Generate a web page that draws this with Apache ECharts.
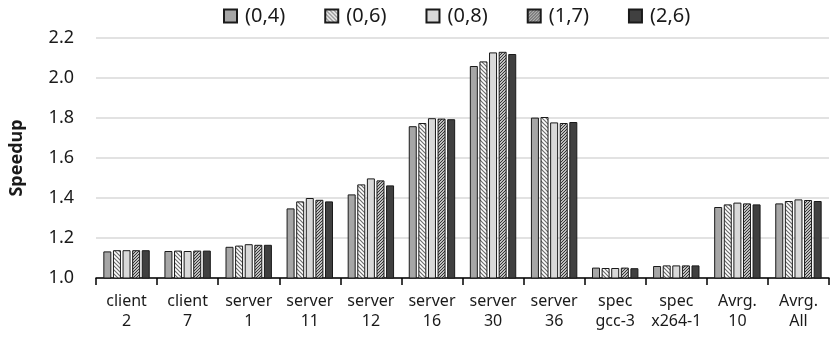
<!DOCTYPE html>
<html>
<head>
<meta charset="utf-8">
<script src="https://cdn.jsdelivr.net/npm/echarts@6/dist/echarts.min.js"></script>
<style>
  html, body { margin: 0; padding: 0; background: #fff; }
  #chart { width: 830px; height: 340px; }
</style>
</head>
<body>
<div id="chart"></div>
<script>
// workloads on the x axis
const categories = ['client\n2', 'client\n7', 'server\n1', 'server\n11', 'server\n12', 'server\n16',
  'server\n30', 'server\n36', 'spec\ngcc-3', 'spec\nx264-1', 'Avrg.\n10', 'Avrg.\nAll'];

const seriesNames = ['(0,4)', '(0,6)', '(0,8)', '(1,7)', '(2,6)'];

// speedup per config
const s04 = [1.133, 1.135, 1.156, 1.348, 1.418, 1.759, 2.060, 1.802, 1.052, 1.060, 1.355, 1.373];
const s06 = [1.139, 1.137, 1.162, 1.383, 1.468, 1.775, 2.083, 1.805, 1.050, 1.063, 1.368, 1.385];
const s08 = [1.139, 1.135, 1.169, 1.400, 1.498, 1.799, 2.128, 1.778, 1.050, 1.063, 1.377, 1.393];
const s17 = [1.139, 1.137, 1.166, 1.391, 1.488, 1.797, 2.131, 1.775, 1.052, 1.063, 1.373, 1.390];
const s26 = [1.139, 1.137, 1.166, 1.383, 1.463, 1.794, 2.120, 1.780, 1.049, 1.063, 1.368, 1.385];

const yTicks = [1.0, 1.2, 1.4, 1.6, 1.8, 2.0, 2.2];

const FONT = 'Noto Sans';

// diagonal hatch fill
function hatch(lineColor, step, width, dir) {
  const c = document.createElement('canvas');
  c.width = step; c.height = step;
  const ctx = c.getContext('2d');
  ctx.fillStyle = '#fff';
  ctx.fillRect(0, 0, step, step);
  ctx.strokeStyle = lineColor;
  ctx.lineWidth = width;
  ctx.beginPath();
  if (dir > 0) {
    // "/" lines
    ctx.moveTo(-1, step + 1); ctx.lineTo(step + 1, -1);
    ctx.moveTo(-1, 1); ctx.lineTo(1, -1);
    ctx.moveTo(step - 1, step + 1); ctx.lineTo(step + 1, step - 1);
  } else {
    // "\" lines
    ctx.moveTo(-1, -1); ctx.lineTo(step + 1, step + 1);
    ctx.moveTo(step - 1, -1); ctx.lineTo(step + 1, 1);
    ctx.moveTo(-1, step - 1); ctx.lineTo(1, step + 1);
  }
  ctx.stroke();
  return { image: c, repeat: 'repeat' };
}

const fills = [
  '#a6a6a6',
  hatch('#6e6e6e', 4, 1.2, -1),
  '#d9d9d9',
  hatch('#303030', 3, 1.2, 1),
  '#404040'
];
const values = [s04, s06, s08, s17, s26];

const chart = echarts.init(document.getElementById('chart'), null, { renderer: 'canvas' });

const series = seriesNames.map((name, i) => ({
  name,
  type: 'bar',
  barWidth: 8,
  barGap: '20%',
  itemStyle: {
    color: fills[i],
    borderColor: '#1a1a1a',
    borderWidth: 1
  },
  data: values[i]
}));

chart.setOption({
  animation: false,
  backgroundColor: '#fff',
  textStyle: { fontFamily: FONT },
  legend: {
    top: 1,
    left: 218,
    itemWidth: 13,
    itemHeight: 13,
    itemGap: 39,
    icon: 'rect',
    textStyle: { fontFamily: FONT, fontSize: 20, color: '#1a1a1a', padding: [0, 0, 0, 3] },
    data: seriesNames
  },
  grid: { left: 93, right: 1, top: 38, bottom: 62 },
  xAxis: {
    type: 'category',
    data: categories,
    axisLine: { lineStyle: { color: '#000', width: 1.5 } },
    axisTick: { show: true, length: 7, lineStyle: { color: '#000', width: 1.5 } },
    axisLabel: { fontFamily: FONT, fontSize: 16, color: '#1a1a1a', margin: 13, lineHeight: 20, interval: 0 }
  },
  yAxis: {
    type: 'value',
    min: yTicks[0],
    max: yTicks[yTicks.length - 1],
    interval: 0.2,
    name: 'Speedup',
    nameLocation: 'middle',
    nameRotate: 90,
    nameGap: 70,
    nameTextStyle: { fontFamily: FONT, fontSize: 18, fontWeight: 'bold', color: '#1a1a1a' },
    axisLine: { show: false },
    axisTick: { show: false },
    splitLine: { lineStyle: { color: '#d9d9d9', width: 1.5 } },
    axisLabel: {
      fontFamily: FONT, fontSize: 18, color: '#1a1a1a', margin: 22,
      formatter: v => v.toFixed(1)
    }
  },
  series
});
</script>
</body>
</html>
